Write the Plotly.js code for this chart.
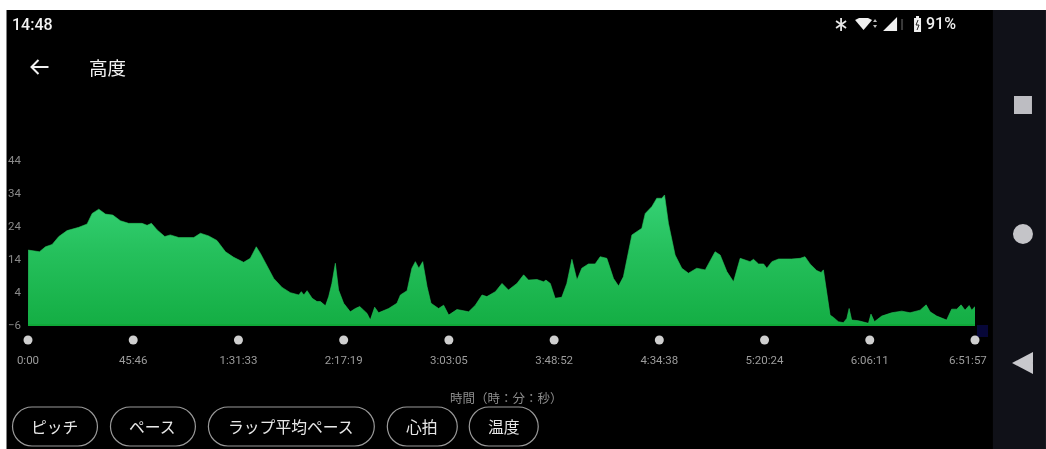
<!DOCTYPE html>
<html><head><meta charset="utf-8">
<script src="https://cdn.plot.ly/plotly-3.0.1.min.js"></script>
<style>html,body{margin:0;padding:0;background:#fff;overflow:hidden}#g{width:1046px;height:449px;filter:blur(0.5px)}</style>
</head><body><div id="g"></div>
<script>
// Elapsed time in minutes and altitude in metres
const minutes = [0.07,2.5,5,7.6,10.5,13.4,17,22.1,25.7,27.9,30.8,33.7,36.9,40.2,43.8,49.6,51.8,53.7,56.2,59.5,61.9,65.6,72.1,75,78.6,82.2,85.9,89.5,93.8,96.7,99.3,101.1,103.3,106.9,110.5,114.1,117.8,118.9,120,121.4,123.6,125.7,127.2,129.4,130.8,132.2,133.7,135.1,137.3,140.2,142.4,144.3,146,147.5,148.9,150.8,152.5,156.9,160.5,162,164.9,167,168.5,170,171.7,173.6,175.3,177.2,178.6,180.8,183,186.6,191.7,194.6,197.5,199.6,203.3,206.2,207.6,209,212.7,215.6,217.7,221.4,224.3,225.3,227.2,229.3,232.2,234.4,236.6,238.8,240.9,243.8,246.7,248.9,251.8,254.7,256.9,259,262.7,267,268.5,271.4,273.5,275.7,276.9,278.6,281.5,284.4,287.3,290.9,294.6,298.9,301.1,304,306.9,309.8,312,314.1,315.6,317.8,320,321.4,323.6,326.5,332.2,335.9,338,340.2,343.1,345,346,347.5,348.9,350.4,352.5,354.7,356.2,357.2,358.3,361.2,365.6,366.7,368.2,371.4,375.7,380.1,383.7,388.1,390.7,392.4,395.3,399.6,401.8,404,405.9,407.6,409.4,410.5,411.95];
const altitude = [16.7,16.5,16.2,17.7,18.4,20.8,22.6,23.6,24.6,27.8,29.1,27.6,27.3,25.6,24.8,24.8,24.2,24.8,22.8,20.8,21.3,20.5,20.5,21.8,21,19.6,16.2,14.5,13,14.2,17.7,15.7,12.7,8.1,5.4,3.8,3.1,4.1,3.1,4.4,2.1,1.1,1.1,-0.2,2.6,6.6,12.7,4.6,0.6,-2,-1,-0.4,-1.5,-2.5,-4.5,-0.6,-2.3,-1,0.6,3.1,4.4,11.2,13.2,11.2,13.2,5.6,0.6,-0.4,-1,0,-3,-1.3,-2,0,3.1,2.6,4.1,6.6,5.6,4.6,6.6,9.2,7.6,7.8,7.1,7.6,6.6,2.1,2.4,6.6,13.9,7.6,11.2,12.5,12.5,14.7,14.2,8.1,5.8,8.6,21.3,23.3,27.8,29.9,32.4,32.4,33.4,24.8,15.2,11.2,9.7,11.2,10.7,16.2,15.2,10.2,7.1,14.2,13.7,13.2,13.9,12.5,12.5,11.2,13.2,14,14,14.2,14.7,12.5,10.5,9.9,10.7,3.6,-3,-3.7,-5,-5.3,-4,-1,-4.5,-4.7,-5.5,-2.7,-5,-3.3,-2.3,-1.8,-2.3,-1.5,0.1,-2,-3.3,-4.5,-1.2,-1.2,0.1,-1.5,-0.1,-1.5,-0.4];
const tickMinutes = [0,45.77,91.55,137.32,183.08,228.87,274.63,320.4,366.18,411.95];
const tickLabels = ['0:00','45:46','1:31:33','2:17:19','3:03:05','3:48:52','4:34:38','5:20:24','6:06:11','6:51:57\u00A0\u00A0\u00A0\u00A0\u00A0'];
const yTicks = [-6,4,14,24,34,44];
const buttons = ['ピッチ','ペース','ラップ平均ペース','心拍','温度'];

const W=1046,H=449;
const L=27.5,R=975,T=140,B=345;
const yBase=-6, pxPerUnit=3.3, yBasePx=325;
const X=p=>(p-L)/(R-L), Y=p=>(B-p)/(B-T);
const xMax=tickMinutes[tickMinutes.length-1];
const dotY=yBase-(340-yBasePx)/pxPerUnit;

function rect(x0,y0,x1,y1,c){return{type:'rect',xref:'paper',yref:'paper',layer:'below',x0:X(x0),x1:X(x1),y0:Y(y0),y1:Y(y1),fillcolor:c,line:{width:0}};}
function poly(pts,c,stroke,w){return{type:'path',xref:'paper',yref:'paper',layer:'above',
  path:'M'+pts.map(p=>X(p[0])+','+Y(p[1])).join(' L')+(c?' Z':''),fillcolor:c||'rgba(0,0,0,0)',line:{color:stroke||'rgba(0,0,0,0)',width:w||0}};}
function circle(cx,cy,r,c){return{type:'circle',xref:'paper',yref:'paper',layer:'above',x0:X(cx-r),x1:X(cx+r),y0:Y(cy-r),y1:Y(cy+r),fillcolor:c,line:{width:0}};}
function pill(x0,x1,y0,y1){
  const r=(y1-y0)/2,k=r*0.45,P=(x,y)=>X(x)+','+Y(y);
  const path='M'+P(x0+r,y0)+' L'+P(x1-r,y0)+' C'+P(x1-k,y0)+' '+P(x1,y0+k)+' '+P(x1,y0+r)+
   ' C'+P(x1,y1-k)+' '+P(x1-k,y1)+' '+P(x1-r,y1)+' L'+P(x0+r,y1)+' C'+P(x0+k,y1)+' '+P(x0,y1-k)+' '+P(x0,y0+r)+
   ' C'+P(x0,y0+k)+' '+P(x0+k,y0)+' '+P(x0+r,y0)+' Z';
  return{type:'path',xref:'paper',yref:'paper',layer:'above',path,fillcolor:'rgba(0,0,0,0)',line:{color:'#9a9a9a',width:1.2}};
}
function label(t,x,y,size,color,anchor,family,weight){
  return {text:t,xref:'paper',yref:'paper',x:X(x),y:Y(y),xanchor:anchor||'center',yanchor:'middle',showarrow:false,borderpad:0,borderwidth:0,
    font:{size,color,family:family||'Roboto, sans-serif',weight:weight||400}};
}
const cjk='"Noto Sans CJK JP", sans-serif';
const pillBoxes=[[12,97],[110,195],[208,374],[387,457],[469,538]];

const shapes=[
  rect(6,10,993,449,'#000000'),
  rect(993,10,1046,449,'#101118'),
  rect(977,325,988,337,'#070738'),
  poly([[31,67],[48,67]],null,'#f0f0f0',2),
  poly([[38,60],[31,67],[38,74]],null,'#f0f0f0',2),
  poly([[841,18],[841,31]],null,'#e6e6e6',1.8),
  poly([[836,21],[846,28]],null,'#e6e6e6',1.8),
  poly([[836,28],[846,21]],null,'#e6e6e6',1.8),
  poly([[855,20],[859,18],[868,18],[872,20],[863.5,30]],'#f0f0f0'),
  poly([[875,19],[877,22],[873,22]],'#bdbdbd'),
  poly([[875,28],[877,25],[873,25]],'#bdbdbd'),
  poly([[897,17],[897,31],[883,31]],'#f0f0f0'),
  poly([[901,19],[903,19],[903,30],[901,30]],'#3a3a3a'),
  poly([[914,18],[916,18],[916,16],[919,16],[919,18],[921,18],[921,32],[914,32]],'#f0f0f0'),
  poly([[918,20],[916,25],[919,25],[917,30]],null,'#222222',1),
  rect(1014,96,1032,114,'#bdbdc2'),
  circle(1023,234,10,'#c4c4c8'),
  poly([[1033,352],[1033,374],[1012,363]],'#c8c8cc'),
].concat(pillBoxes.map(b=>pill(b[0],b[1],407,446)));

const annotations=[
  label('14:48',11,25,16,'#f2f2f2','left','Roboto, sans-serif',500),
  label('91%',926,24,16,'#f0f0f0','left','Roboto, sans-serif',500),
  label('高度',89,67,18.5,'#f2f2f2','left',cjk),
  label('時間（時：分：秒）',506,397,12.5,'#8c8c8c','center',cjk),
].concat(buttons.map((t,i)=>label(t,(pillBoxes[i][0]+pillBoxes[i][1])/2,426,15.8,'#e8e8e8','center',cjk)));

const traces=[
  {x:[0,xMax],y:[yBase,yBase],mode:'lines',line:{color:'#0fa838',width:2},hoverinfo:'skip',showlegend:false},
  {x:minutes,y:altitude,mode:'lines',line:{color:'#27c25a',width:0.6},fill:'tonexty',
   fillgradient:{type:'vertical',start:34,stop:-6,colorscale:[[0,'#36d276'],[0.45,'#25c05c'],[1,'#14ae44']]},
   showlegend:false},
  {x:tickMinutes,y:tickMinutes.map(()=>dotY),mode:'markers',cliponaxis:false,marker:{size:9,color:'#cfcfcf'},hoverinfo:'skip',showlegend:false},
];
const layout={
  width:W,height:H,margin:{l:L,r:W-R,t:T,b:H-B,pad:0},
  paper_bgcolor:'#ffffff',plot_bgcolor:'rgba(0,0,0,0)',showlegend:false,
  xaxis:{range:[0,xMax],tickmode:'array',tickvals:tickMinutes,ticktext:tickLabels,ticks:'',showgrid:false,zeroline:false,showline:false,
    tickangle:0,ticklabelstandoff:6,tickfont:{size:11.5,color:'#9c9c9c',family:'Roboto, sans-serif'}},
  yaxis:{range:[yBase-(B-yBasePx)/pxPerUnit,yBase+(yBasePx-T)/pxPerUnit],tickmode:'array',tickvals:yTicks,ticks:'',showgrid:false,zeroline:false,showline:false,
    ticklabelstandoff:6,tickfont:{size:11.5,color:'#8a8a8a',family:'Roboto, sans-serif'}},
  shapes,annotations
};
Plotly.newPlot('g',traces,layout,{displayModeBar:false,staticPlot:true});
</script></body></html>
